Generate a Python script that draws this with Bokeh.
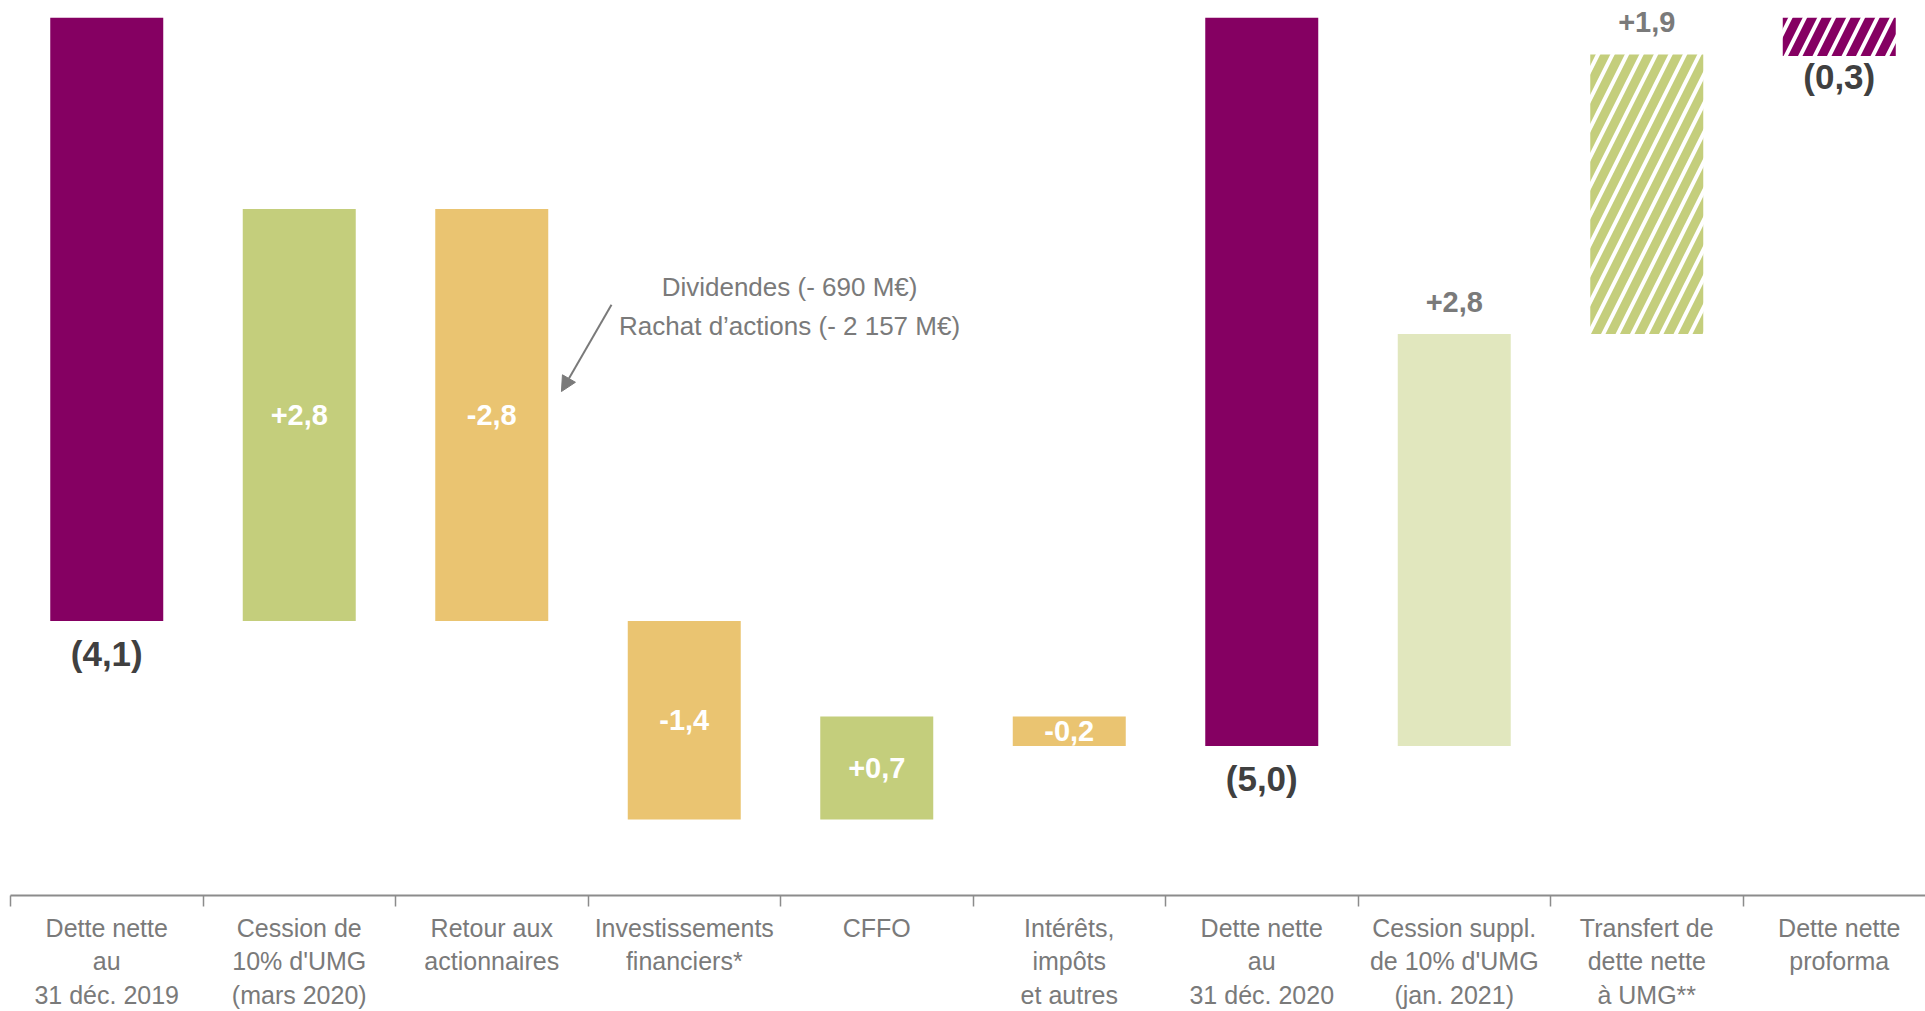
from bokeh.plotting import figure
from bokeh.models import Range1d, FixedTicker, ColumnDataSource, Arrow, NormalHead, Label
from bokeh.core.properties import value
from bokeh.embed import file_html
from bokeh.resources import INLINE

categories = ["Dette nette\nau\n31 déc. 2019", "Cession de\n10% d'UMG\n(mars 2020)",
              "Retour aux\nactionnaires", "Investissements\nfinanciers*", "CFFO",
              "Intérêts,\nimpôts\net autres", "Dette nette\nau\n31 déc. 2020",
              "Cession suppl.\nde 10% d'UMG\n(jan. 2021)", "Transfert de\ndette nette\nà UMG**",
              "Dette nette\nproforma"]
# values (labels are rounded)
changes = [-4.1, 2.8, -2.8, -1.35, 0.7, -0.2, -4.95, 2.8, 1.9, -0.26]
kinds = ["total", "pos", "neg", "neg", "pos", "neg", "total", "pos_light", "pos_hatch", "total_hatch"]
value_labels = ["(4,1)", "+2,8", "-2,8", "-1,4", "+0,7", "-0,2", "(5,0)", "+2,8", "+1,9", "(0,3)"]
annotation_lines = ["Dividendes (- 690 M€)", "Rachat d\u2019actions (- 2 157 M€)"]

PURPLE = "#850062"
GREEN = "#C4CE7C"
YELLOW = "#EAC471"
LIGHTGREEN = "#E1E7BE"
GRAY = "#7A7A7A"
DARK = "#404040"
FONT = "Liberation Sans"

# waterfall geometry
tops, bottoms = [], []
running = 0.0
for c, k in zip(changes, kinds):
    if k.startswith("total"):
        running = c
        tops.append(0.0)
        bottoms.append(c)
    else:
        a, b = running, running + c
        tops.append(max(a, b))
        bottoms.append(min(a, b))
        running = b

xs = list(range(len(categories)))
fills = {"total": PURPLE, "pos": GREEN, "neg": YELLOW, "pos_light": LIGHTGREEN}
hatch_colors = {"pos_hatch": GREEN, "total_hatch": PURPLE}

p = figure(width=1925, height=1011, output_backend="svg", toolbar_location=None,
           x_range=Range1d(-0.5, 9.448), y_range=Range1d(-5.966, 0.1164),
           min_border_left=10, min_border_right=0, min_border_top=0, min_border_bottom=0,
           y_axis_location=None)
p.outline_line_color = None
p.grid.visible = False
p.background_fill_color = "white"

solid = [i for i, k in enumerate(kinds) if "hatch" not in k]
src = ColumnDataSource(dict(x=[xs[i] for i in solid], top=[tops[i] for i in solid],
                            bottom=[bottoms[i] for i in solid],
                            color=[fills[kinds[i]] for i in solid]))
p.vbar(x="x", top="top", bottom="bottom", width=0.587, fill_color="color", line_color=None, source=src)

for i, k in enumerate(kinds):
    if "hatch" in k:
        p.vbar(x=[xs[i]], top=[tops[i]], bottom=[bottoms[i]], width=0.587, fill_color="white",
               line_color=None, hatch_pattern="/", hatch_color=hatch_colors[k],
               hatch_scale=29, hatch_weight=9)

# labels inside bars
inside = [i for i, k in enumerate(kinds) if k in ("pos", "neg")]
p.text(x=[xs[i] for i in inside], y=[(tops[i] + bottoms[i]) / 2 for i in inside],
       text=[value_labels[i] for i in inside], text_align="center", text_baseline="middle",
       text_color="white", text_font=value(FONT), text_font_style="bold", text_font_size="29px")

# labels below totals
below = [i for i, k in enumerate(kinds) if k.startswith("total")]
p.text(x=[xs[i] for i in below], y=[bottoms[i] for i in below],
       text=[value_labels[i] for i in below], text_align="center", text_baseline="middle",
       y_offset=[21 if "hatch" in kinds[i] else 33 for i in below],
       text_color=DARK, text_font=value(FONT), text_font_style="bold", text_font_size="35px")

# labels above light bars
above = [i for i, k in enumerate(kinds) if k in ("pos_light", "pos_hatch")]
p.text(x=[xs[i] for i in above], y=[tops[i] for i in above],
       text=[value_labels[i] for i in above], text_align="center", text_baseline="middle",
       y_offset=-32, text_color=GRAY, text_font=value(FONT), text_font_style="bold",
       text_font_size="29px")

# annotation
p.add_layout(Arrow(x_start=2.622, y_start=-1.952, x_end=2.362, y_end=-2.541,
                   line_color=GRAY, line_width=2,
                   end=NormalHead(size=15, fill_color=GRAY, line_color=GRAY)))
for j, t in enumerate(annotation_lines):
    p.add_layout(Label(x=3.547, y=-1.829 - 0.267 * j, text=t, text_align="center",
                       text_baseline="middle", text_color=GRAY, text_font=FONT,
                       text_font_size="26px"))

# x axis
ax = p.xaxis[0]
ax.ticker = FixedTicker(ticks=xs, minor_ticks=[x - 0.5 for x in xs] + [xs[-1] + 0.5])
ax.major_label_overrides = {x: c for x, c in zip(xs, categories)}
ax.major_tick_out = 0
ax.major_tick_in = 0
ax.minor_tick_out = 11
ax.minor_tick_in = 0
ax.minor_tick_line_color = "#8C8C8C"
ax.minor_tick_line_width = 1.5
ax.axis_line_color = "#8C8C8C"
ax.axis_line_width = 2
ax.major_label_text_font = FONT
ax.major_label_text_font_size = "25px"
ax.major_label_text_color = GRAY
ax.major_label_text_line_height = 1.2
ax.major_label_standoff = 7

open("out.html", "w").write(file_html(p, INLINE))
